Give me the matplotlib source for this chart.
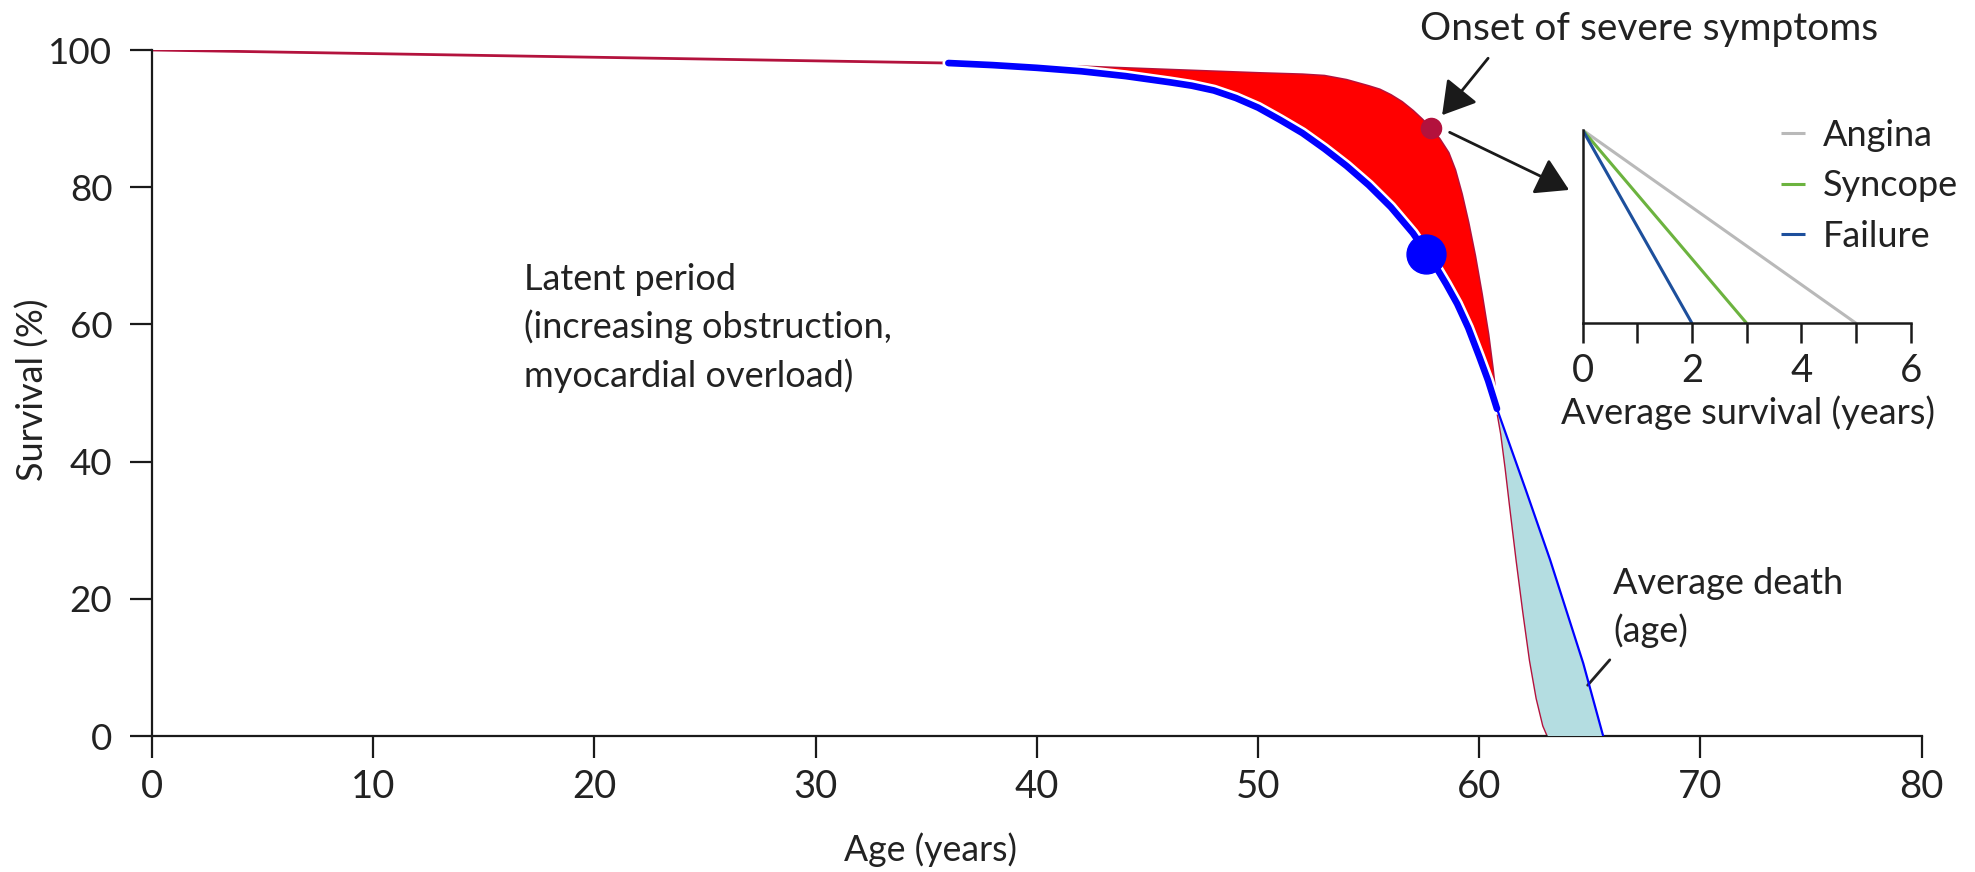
import numpy as np
import matplotlib
matplotlib.use("Agg")
import matplotlib.pyplot as plt
from matplotlib import patheffects as pe

plt.rcParams['font.family'] = ['Lato', 'DejaVu Sans']

# Upper survival curve (age in years, survival in %)
age_upper = [0, 36.0, 40.0, 45.0, 50.0, 52.0, 53.0, 54.0, 55.0, 55.5, 56.0, 56.5,
             57.0, 57.4, 57.8, 58.2, 58.6, 58.9, 59.2, 59.5, 59.8, 60.1, 60.4,
             60.6, 60.8, 61.0, 61.2, 61.4, 61.7, 62.0, 62.3, 62.6, 62.9, 63.1]
surv_upper = [100, 98.1, 97.8, 97.2, 96.6, 96.4, 96.2, 95.6, 94.7, 94.2, 93.4, 92.4,
              91.1, 89.9, 88.6, 87.0, 85.0, 82.5, 79.0, 74.8, 70.0, 64.5, 58.5,
              53.5, 47.7, 44.0, 39.0, 33.5, 25.5, 18.0, 11.0, 5.5, 1.5, 0]

# Lower survival curve
age_lower = [36.0, 38.0, 40.0, 42.0, 44.0, 46.0, 47.0, 48.0, 49.0, 50.0, 51.0, 52.0,
             53.0, 54.0, 55.0, 56.0, 57.0, 58.0, 58.5, 59.0, 59.5, 60.0, 60.4, 60.8]
surv_lower = [98.1, 97.8, 97.4, 96.9, 96.2, 95.3, 94.8, 94.1, 93.0, 91.6, 89.8, 87.9,
              85.6, 83.1, 80.3, 77.1, 73.3, 68.6, 65.9, 63.0, 59.5, 55.3, 51.8, 47.7]
age_lower_tail = [60.8, 62.1, 63.2, 64.7, 65.6]
surv_lower_tail = [47.7, 35.9, 25.7, 10.6, 0]

# Markers
onset_age, onset_surv = 57.8, 88.6
lower_mark_age, lower_mark_surv = 57.6, 70.2

# Inset: average survival after onset of each symptom
symptoms = ['Angina', 'Syncope', 'Failure']
avg_survival = [5, 3, 2]
symptom_colors = ['#b9b9b9', '#6cb33f', '#1d4f9c']

W, H = 1975, 872
fig = plt.figure(figsize=(W / 100, H / 100), dpi=100)
ax = fig.add_axes([152 / W, 1 - 736 / H, (1921.7 - 152) / W, (736 - 50) / H])

crimson = '#b3123d'
red = '#ff0000'
blue = '#0000ff'
pale = '#b4dde1'
ink = '#222222'

au = np.array(age_upper, float)
su = np.array(surv_upper, float)
al = np.array(age_lower, float)
sl = np.array(surv_lower, float)
at = np.array(age_lower_tail, float)
st = np.array(surv_lower_tail, float)

# crimson curve underneath the filled bands
ax.plot(au, su, color=crimson, lw=2.0, zorder=2, solid_joinstyle='round')

# red band between the two curves
m = (au >= al[0]) & (au <= al[-1])
ax.fill(np.r_[au[m], al[::-1]], np.r_[su[m], sl[::-1]], color=red, lw=0, zorder=3)

# pale band for the final phase
m2 = au >= at[0]
ax.fill(np.r_[au[m2], at[::-1]], np.r_[su[m2], st[::-1]], color=pale, lw=0, zorder=3)

halo = [pe.Stroke(linewidth=8.5, foreground='white'), pe.Normal()]
ax.plot(al, sl, color=blue, lw=4.8, zorder=4, path_effects=halo,
        solid_capstyle='round', solid_joinstyle='round')
ax.plot(at, st, color=blue, lw=1.6, zorder=4)

ax.plot([onset_age], [onset_surv], 'o', color=crimson, ms=14.5, zorder=6)
ax.plot([lower_mark_age], [lower_mark_surv], 'o', color=blue, ms=28, zorder=6)

ax.set_xlim(0, 80)
ax.set_ylim(0, 100)
ax.set_xticks(range(0, 81, 10))
ax.set_yticks(range(0, 101, 20))
for s in ['top', 'right']:
    ax.spines[s].set_visible(False)
for s in ['left', 'bottom']:
    ax.spines[s].set_linewidth(1.6)
    ax.spines[s].set_color('#1a1a1a')
ax.tick_params(axis='both', direction='out', length=15.5, width=1.6, color='#1a1a1a',
               labelcolor=ink)
ax.tick_params(axis='x', pad=8, labelsize=27.5)
ax.tick_params(axis='y', pad=13, labelsize=26.5)

ax.set_xlabel('Age (years)', fontsize=25.7, color=ink)
ax.xaxis.set_label_coords((930 - 152) / 1769.7, (736 - 850) / 686)
ax.xaxis.label.set_va('center')
ax.set_ylabel('Survival (%)', fontsize=26, color=ink)
ax.yaxis.set_label_coords((33 - 152) / 1769.7, (736 - 390) / 686)
ax.yaxis.label.set_va('center')

txt = dict(color=ink, clip_on=False)
ax.text(16.8, 50.87, 'Latent period\n(increasing obstruction,\nmyocardial overload)',
        ha='left', va='baseline', fontsize=26, linespacing=1.49, **txt)
ax.text(57.32, 101.5, 'Onset of severe symptoms', ha='left', va='baseline',
        fontsize=28, **txt)
ax.text(66.05, 13.63, 'Average death\n(age)', ha='left', va='baseline',
        fontsize=26, linespacing=1.49, **txt)

# pointer from the label to the final curve
ax.annotate('', xy=(64.9, 7.4), xytext=(65.9, 11.1),
            arrowprops=dict(arrowstyle='-', lw=2.0, color=ink,
                            shrinkA=0, shrinkB=0), annotation_clip=False)

arrow = dict(arrowstyle='-|>,head_length=1.0,head_width=0.6', mutation_scale=20,
             lw=2.0, color='#1a1a1a', shrinkA=0, shrinkB=0)
ax.annotate('', xy=(58.32, 90.5), xytext=(60.4, 98.8), arrowprops=arrow,
            annotation_clip=False)
ax.annotate('', xy=(64.06, 79.6), xytext=(58.66, 88.0), arrowprops=arrow,
            annotation_clip=False)

# inset
ins = fig.add_axes([1582.6 / W, 1 - 323.3 / H, (1910.8 - 1582.6) / W, (323.3 - 130) / H])
for name, d, c in zip(symptoms, avg_survival, symptom_colors):
    ins.plot([0, d], [100, 0], color=c, lw=2.2, label=name, solid_capstyle='butt')
ins.set_xlim(0, 6)
ins.set_ylim(0, 100)
ins.set_xticks(range(0, 7))
ins.set_xticklabels(['0', '', '2', '', '4', '', '6'])
ins.set_yticks([])
ins.patch.set_alpha(0)
for s in ['top', 'right']:
    ins.spines[s].set_visible(False)
for s in ['left', 'bottom']:
    ins.spines[s].set_linewidth(1.8)
    ins.spines[s].set_color('#1a1a1a')
ins.tick_params(axis='x', direction='out', length=14.5, width=1.8, color='#1a1a1a',
                labelsize=27.5, labelcolor=ink, pad=7)
ins.set_xlabel('Average survival (years)', fontsize=26, color=ink)
ins.xaxis.set_label_coords(0.504, (323.3 - 413) / 193.3)
ins.xaxis.label.set_va('center')

leg = ins.legend(loc='upper left', bbox_to_anchor=(1781 / W, 1 - 119 / H),
                 bbox_transform=fig.transFigure, frameon=False, fontsize=26,
                 handlelength=0.66, handletextpad=0.51, labelspacing=0.48,
                 borderpad=0, borderaxespad=0)
for t in leg.get_texts():
    t.set_color(ink)

fig.savefig('out.png', dpi=100, facecolor='white')
